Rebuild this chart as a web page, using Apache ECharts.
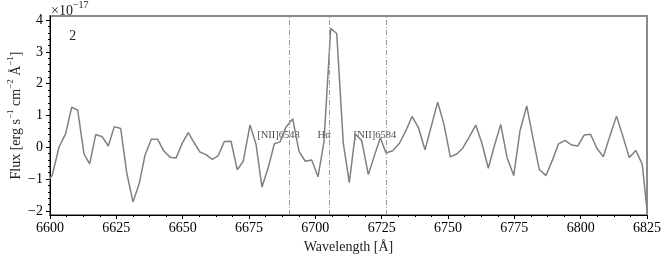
<!DOCTYPE html>
<html><head><meta charset="utf-8">
<script src="https://cdn.jsdelivr.net/npm/echarts@6/dist/echarts.min.js"></script>
<style>html,body{margin:0;padding:0;background:#fff}#c{width:665px;height:259px}</style>
</head><body><div id="c"></div>
<script>
const wavelength = [6598.5, 6600.87, 6603.39, 6605.92, 6608.18, 6610.44, 6612.81, 6614.96, 6617.22, 6619.71, 6621.97, 6624.23, 6626.65, 6628.91, 6631.28, 6633.66, 6635.80, 6638.18, 6640.59, 6642.85, 6645.23, 6647.49, 6649.86, 6652.12, 6654.27, 6656.53, 6658.80, 6661.17, 6663.43, 6665.69, 6668.22, 6670.59, 6672.85, 6675.38, 6677.64, 6679.90, 6682.28, 6684.54, 6686.69, 6688.95, 6691.47, 6693.85, 6696.22, 6698.63, 6701.01, 6703.27, 6705.80, 6708.06, 6710.54, 6712.80, 6715.07, 6717.48, 6719.97, 6722.23, 6724.49, 6726.64, 6729.16, 6731.65, 6734.17, 6736.44, 6738.81, 6741.33, 6743.60, 6746.12, 6748.49, 6750.87, 6753.28, 6755.54, 6758.03, 6760.44, 6762.71, 6765.19, 6767.45, 6769.87, 6772.24, 6774.77, 6777.14, 6779.67, 6781.93, 6784.42, 6786.94, 6789.47, 6791.65, 6794.10, 6796.63, 6798.89, 6801.34, 6803.71, 6806.16, 6808.54, 6811.14, 6813.51, 6815.85, 6818.34, 6820.79, 6823.20, 6825.0];
const flux = [-1.15, -0.87, 0.00, 0.44, 1.26, 1.17, -0.21, -0.52, 0.40, 0.33, 0.04, 0.65, 0.59, -0.80, -1.72, -1.13, -0.25, 0.25, 0.25, -0.11, -0.31, -0.34, 0.13, 0.46, 0.15, -0.15, -0.23, -0.38, -0.26, 0.18, 0.19, -0.71, -0.43, 0.70, 0.10, -1.25, -0.63, 0.11, 0.17, 0.64, 0.90, -0.13, -0.44, -0.40, -0.93, 0.18, 3.74, 3.58, 0.13, -1.11, 0.42, 0.21, -0.86, -0.27, 0.30, -0.18, -0.11, 0.12, 0.53, 0.97, 0.63, -0.08, 0.63, 1.42, 0.72, -0.30, -0.21, -0.03, 0.33, 0.70, 0.15, -0.66, 0.04, 0.72, -0.32, -0.89, 0.52, 1.30, 0.33, -0.70, -0.89, -0.38, 0.11, 0.22, 0.07, 0.04, 0.39, 0.41, -0.04, -0.30, 0.39, 0.98, 0.36, -0.32, -0.10, -0.53, -1.97];
const lineNames = ['[NII]6548', 'Hα', '[NII]6584'];
const linePositions = [6690.3, 6705.4, 6726.9];
const lineLabelX = [6686.1, 6703.3, 6722.5];
const lineLabelY = [0.39, 0.39, 0.39];
const xMin = 6600, xMax = 6825, xStep = 25;
const yMin = -2.13, yMax = 4.13;
const yTickMin = -2, yTickMax = 4, yStep = 1;
const panelLabel = '2';

const W = 665, H = 259;
const gl = 50, gr = 18, gt = 16, gb = 44;
const ph = H - gt - gb;
const t1 = gt + (yMax - yTickMax) / (yMax - yMin) * ph;
const b1 = gb + (yTickMin - yMin) / (yMax - yMin) * ph;
const FONT = 'Liberation Serif';
const minus = v => String(v).replace('-', '\u2212');

const chart = echarts.init(document.getElementById('c'), null, {renderer: 'canvas'});
chart.setOption({
  animation: false,
  backgroundColor: '#fff',
  grid: [
    {left: gl, right: gr, top: gt, bottom: gb, show: true, borderColor: '#8a8a8a', borderWidth: 2, backgroundColor: 'transparent'},
    {left: gl, right: gr, top: t1, bottom: b1, show: false}
  ],
  xAxis: [
    {type: 'value', gridIndex: 0, min: xMin, max: xMax, interval: xStep, position: 'bottom',
     axisLine: {show: true, onZero: false, lineStyle: {color: '#000', width: 1}},
     axisTick: {show: true, length: 4, lineStyle: {color: '#000'}},
     minorTick: {show: true, splitNumber: 4, length: 2, lineStyle: {color: '#000'}},
     splitLine: {show: false},
     axisLabel: {margin: 6, color: '#000', fontFamily: FONT, fontSize: 14, formatter: v => String(v)}},
    {type: 'value', gridIndex: 1, min: 0, max: 1, show: false}
  ],
  yAxis: [
    {type: 'value', gridIndex: 0, min: yMin, max: yMax, position: 'left',
     axisLine: {show: true, onZero: false, lineStyle: {color: '#000', width: 1}},
     axisTick: {show: false}, axisLabel: {show: false}, splitLine: {show: false}},
    {type: 'value', gridIndex: 1, min: yTickMin, max: yTickMax, interval: yStep,
     axisLine: {show: false, onZero: false},
     axisTick: {show: true, length: 4, lineStyle: {color: '#000'}},
     minorTick: {show: true, splitNumber: 5, length: 2, lineStyle: {color: '#000'}},
     splitLine: {show: false},
     axisLabel: {margin: 7, color: '#000', fontFamily: FONT, fontSize: 14, formatter: v => minus(v)}}
  ],
  series: [
    {type: 'line', xAxisIndex: 0, yAxisIndex: 0, showSymbol: false, clip: true,
     data: wavelength.map((w, i) => [w, flux[i]]),
     lineStyle: {color: '#808080', width: 1.5},
     markLine: {silent: true, symbol: ['none', 'none'], label: {show: false},
       lineStyle: {color: '#999', width: 1, type: [5, 2, 1, 2]},
       data: linePositions.map(v => ({xAxis: v}))}},
    {type: 'scatter', xAxisIndex: 0, yAxisIndex: 0, symbolSize: 0, silent: true,
     data: lineLabelX.map((x, i) => [x, lineLabelY[i], lineNames[i]]),
     label: {show: true, position: 'inside', formatter: p => p.data[2],
       color: '#222', fontFamily: FONT, fontSize: 10.5}}
  ],
  graphic: [
    {type: 'text', x: 72.7, y: 36.7, style: {text: panelLabel, font: '14px ' + FONT, fill: '#222', align: 'center', verticalAlign: 'middle'}},
    {type: 'text', x: 51, y: 0, style: {text: '{a|×10}{b|\u221217}', fill: '#222',
      rich: {a: {fontFamily: FONT, fontSize: 14, lineHeight: 18, verticalAlign: 'bottom'},
             b: {fontFamily: FONT, fontSize: 10, lineHeight: 10, verticalAlign: 'top'}}}},
    {type: 'text', x: 15, y: 115.5, rotation: Math.PI / 2,
     style: {text: '{n|Flux [erg s}{s|\u22121}{n| cm}{s|\u22122}{n| Å}{s|\u22121}{n|]}', fill: '#222',
       align: 'center', verticalAlign: 'middle',
       rich: {n: {fontFamily: FONT, fontSize: 14, lineHeight: 17, verticalAlign: 'bottom'},
              s: {fontFamily: FONT, fontSize: 9, lineHeight: 9, verticalAlign: 'top'}}}},
    {type: 'text', x: 348.5, y: 247, style: {text: 'Wavelength [Å]', font: '14px ' + FONT, fill: '#222', align: 'center', verticalAlign: 'middle'}}
  ]
});
</script>
</body></html>
